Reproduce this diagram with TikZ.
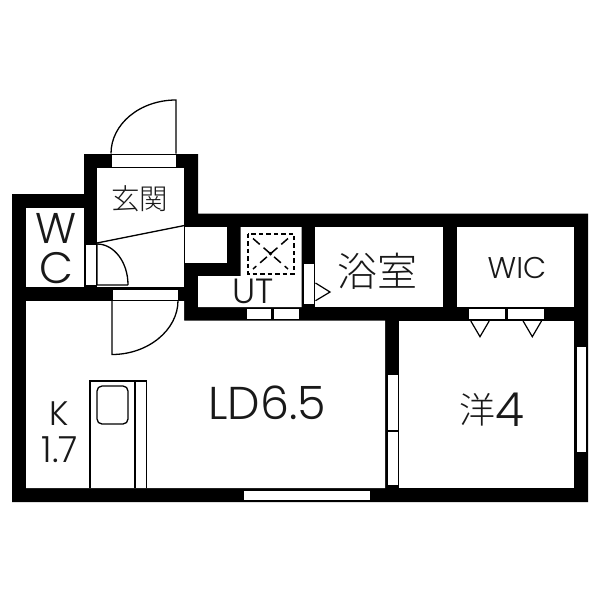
\documentclass[tikz,border=0pt]{standalone}
\usepackage{fontspec}
\setmainfont{Poppins Light}
\newfontfamily\jpfont{Noto Sans CJK JP Light}
\usetikzlibrary{positioning}
\tikzset{
    room/.style={fill=white},
    opening/.style={fill=white,draw=black,line width=0.6pt},
    fixture/.style={draw=black,line width=1.3pt},
    label/.style={inner sep=0pt,text=black!90},
    flap/.style={fill=white,draw=black,line width=1.2pt,line join=miter}
}
\begin{document}
\begin{tikzpicture}[x=1pt,y=-1pt]
    \useasboundingbox (0,0) rectangle (600,600);
    % walls, then rooms cut out of them
    \fill (12,194) -- (84,194) -- (84,154) -- (198,154) -- (198,213.5) -- (588,213.5)
        -- (588,502) -- (12,502) -- cycle;
    \fill[room] (26,208) rectangle (84,287);
    \fill[room] (97,167.5) rectangle (184,287);
    \fill[room] (184,227) rectangle (226.7,263);
    \fill[room] (240.7,227) -- (301.5,227) -- (301.5,307) -- (198,307) -- (198,276) -- (240.7,276) -- cycle;
    \fill[room] (315,227) rectangle (443,307);
    \fill[room] (457,227) rectangle (574,307);
    \fill[room] (26,301) -- (184,301) -- (184,320.5) -- (385,320.5) -- (385,488) -- (26,488) -- cycle;
    \fill[room] (399,320.5) rectangle (574,488);
    % windows and door openings
    \foreach \xa/\ya/\xb/\yb in {111/153.8/176/167, 85/244/96.5/285, 112.5/289/178/300.5,
        303/263.6/314/304.6, 246.5/308.5/271.5/319, 273/308.5/299/319,
        468/308.5/505/319, 507/308.5/544/319, 387/374/398/430, 387/431/398/485.5,
        576/346.5/586/452, 243/490.7/370.5/500}
        \draw[opening] (\xa,\ya) rectangle (\xb,\yb);
    % door leaves
    \draw[fixture] (176,153.5) -- (176,100) .. controls (140,100) and (111,124) .. (111,153.5);
    \draw[fixture] (128,285) -- (97,285) -- (97,244) .. controls (114,244) and (128,262) .. (128,285);
    \draw[fixture] (112,300.5) -- (112,354.5) .. controls (148,354.5) and (178,330) .. (178,300.5);
    \draw[fixture] (97,243) -- (184.5,225.5);
    \draw[line width=0.8pt] (184.5,225.5) -- (184.5,287);
    % pan in UT
    \draw[line width=2pt,dash pattern=on 4.5pt off 3pt] (247.5,233.5) rectangle (294,273.5);
    \draw[line width=1.5pt,dash pattern=on 9pt off 5pt] (253,238.5) -- (288,269);
    \draw[line width=1.5pt,dash pattern=on 9pt off 5pt] (288,238.5) -- (253,269);
    \fill (270.5,253.7) circle (1.8pt);
    % folding flaps
    \draw[flap] (315.5,283) -- (330,292) -- (315.5,300.7);
    \foreach \xc in {480,532.3}
        \draw[flap] (\xc-9.2,321) -- (\xc,336.7) -- (\xc+9.2,321);
    % kitchen
    \draw[fixture] (90,488) -- (90,381) -- (146.5,381) -- (146.5,488);
    \draw[fixture] (135,381) -- (135,488);
    \draw[fixture,rounded corners=5pt] (97,386) rectangle (128,424);
    % texts
    \node[label,font=\jpfont\fontsize{28.5}{28.5}\selectfont] (genkan) at (139.5,199) {玄関};
    \node[label,font=\fontsize{43}{43}\selectfont] (wc_w) at (56,228) {W};
    \node[label,font=\fontsize{44}{44}\selectfont] (wc_c) at (56,268) {C};
    \node[label,font=\jpfont\fontsize{40}{40}\selectfont] (bath) at (377.5,271) {浴室};
    \node[label,font=\fontsize{35}{35}\selectfont] (ut) at (253,291) {UT};
    \node[label,font=\fontsize{30}{30}\selectfont] (wic) at (517,268) {WIC};
    \node[label,font=\fontsize{46}{46}\selectfont] (ld) at (267,403) {LD6.5};
    \node[label,font=\jpfont\fontsize{36}{36}\selectfont] (west) at (477.5,410) {洋};
    \node[label,font=\fontsize{47}{47}\selectfont,right=0pt of west] (west_size) {4};
    \node[label,font=\fontsize{34}{34}\selectfont] (kitchen) at (59,414) {K};
    \node[label,font=\fontsize{36}{36}\selectfont] (kitchen_size) at (60,450) {1.7};
\end{tikzpicture}
\end{document}
